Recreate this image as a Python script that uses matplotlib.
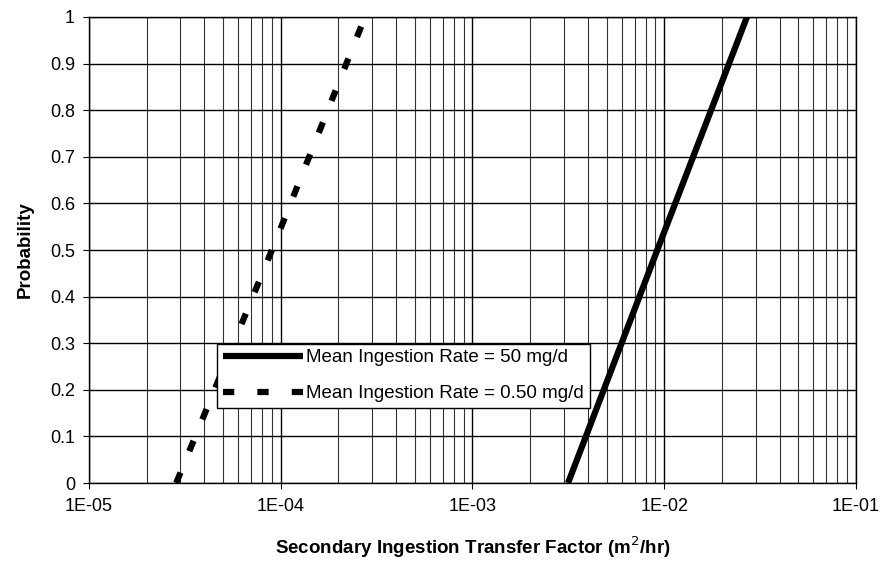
import matplotlib
matplotlib.use("Agg")
import matplotlib.pyplot as plt
from matplotlib.ticker import LogLocator, FixedLocator, FuncFormatter
import numpy as np

plt.rcParams['font.family'] = ['Liberation Sans', 'DejaVu Sans']

# Data: points of each CDF line (log-linear)
prob = [0.0, 0.5, 1.0]
tf_50mg = [3.15e-3, 9.2e-3, 2.7e-2]
tf_050mg = [2.85e-5, 9.0e-5, 2.75e-4]
series_labels = ["Mean Ingestion Rate = 50 mg/d", "Mean Ingestion Rate = 0.50 mg/d"]
x_ticks = [1e-5, 1e-4, 1e-3, 1e-2, 1e-1]
x_tick_labels = ["1E-05", "1E-04", "1E-03", "1E-02", "1E-01"]
y_ticks = [0, 0.1, 0.2, 0.3, 0.4, 0.5, 0.6, 0.7, 0.8, 0.9, 1]
y_tick_labels = ["0", "0.1", "0.2", "0.3", "0.4", "0.5", "0.6", "0.7", "0.8", "0.9", "1"]

fig = plt.figure(figsize=(8.82, 5.61), dpi=100)
ax = fig.add_axes([0.1009, 0.139, 0.8696, 0.8307])

ax.plot(tf_50mg, prob, color='black', lw=4.5, solid_capstyle='butt', label=series_labels[0], zorder=3)
ax.plot(tf_050mg, prob, color='black', lw=4.5, dashes=(1.8, 3.7), label=series_labels[1], zorder=3)

ax.set_xscale('log')
ax.set_xlim(1e-5, 1e-1)
ax.set_ylim(0, 1)
ax.set_xticks(x_ticks)
ax.set_xticklabels(x_tick_labels)
ax.xaxis.set_minor_locator(LogLocator(base=10, subs=np.arange(2, 10)))
ax.xaxis.set_minor_formatter(FuncFormatter(lambda v, p: ""))
ax.set_yticks(y_ticks)
ax.set_yticklabels(y_tick_labels)

ax.grid(True, which='major', axis='both', color='black', lw=1.0)
ax.grid(True, which='minor', axis='x', color='#333333', lw=0.8)
ax.set_axisbelow(True)

for s in ax.spines.values():
    s.set_color('black')
    s.set_linewidth(1.0)

ax.tick_params(axis='y', which='major', labelsize=13, length=4, direction='out', color='black', pad=6)
ax.tick_params(axis='x', which='major', labelsize=13, length=4, direction='out', color='black', pad=7)
ax.tick_params(axis='x', which='minor', length=0)

ax.set_xlabel("Secondary Ingestion Transfer Factor (m$^{2}$/hr)", fontsize=13.5, fontweight='bold', labelpad=14)
ax.set_ylabel("Probability", fontsize=13.5, fontweight='bold', labelpad=12)

leg = ax.legend(loc='lower left', bbox_to_anchor=(0.167, 0.161), fontsize=13.5,
                frameon=True, fancybox=False, framealpha=1, edgecolor='black',
                handlelength=4.3, handletextpad=0.15, borderpad=0.3, labelspacing=1.0,
                borderaxespad=0)
leg.get_frame().set_linewidth(1.0)

fig.savefig("out.png", dpi=100)
